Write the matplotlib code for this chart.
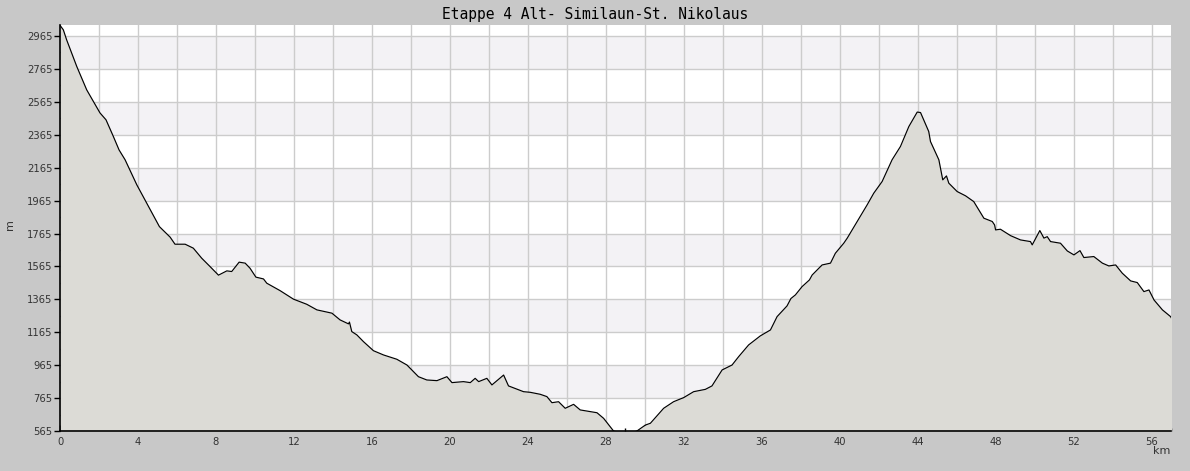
import matplotlib
matplotlib.use("Agg")
import matplotlib.pyplot as plt
from matplotlib.ticker import MultipleLocator, FixedLocator, FuncFormatter

titel = "Etappe 4 Alt- Similaun-St. Nikolaus"

# Distanz (km) und Hoehe (m)
km = [0.0, 0.17, 0.34, 0.86, 1.37, 2.05, 2.36, 2.74, 3.03, 3.34, 3.94, 4.45, 4.96, 5.10,
      5.65, 5.90, 6.42, 6.84, 7.27, 7.70, 8.13, 8.56, 8.81, 9.19, 9.50, 9.75, 10.05,
      10.44, 10.61, 11.29, 11.98, 12.66, 13.18, 13.95, 14.37, 14.80, 14.85, 14.97,
      15.23, 15.57, 16.08, 16.60, 17.28, 17.80, 18.39, 18.82, 19.34, 19.85, 20.11,
      20.70, 21.05, 21.30, 21.48, 21.90, 22.16, 22.76, 23.01, 23.78, 24.13, 24.64,
      24.98, 25.24, 25.58, 25.92, 26.35, 26.69, 27.55, 27.89, 28.40, 28.8, 29.3,
      29.6, 30.03, 30.29, 30.97, 31.48, 32.00, 32.51, 33.11, 33.45, 33.97, 34.48,
      34.82, 35.33, 35.93, 36.45, 36.79, 37.30, 37.50, 37.73, 38.07, 38.45, 38.59,
      39.10, 39.53, 39.78, 40.21, 40.39, 40.90, 41.41, 41.75, 42.18, 42.69, 43.12,
      43.55, 43.98, 44.15, 44.57, 44.66, 45.09, 45.29, 45.48, 45.60, 46.03, 46.46,
      46.88, 47.40, 47.83, 47.95, 48.00, 48.25, 48.77, 49.28, 49.79, 49.88, 50.27,
      50.48, 50.65, 50.82, 51.33, 51.68, 52.02, 52.33, 52.53, 53.04, 53.48, 53.81,
      54.16, 54.50, 54.93, 55.27, 55.61, 55.87, 56.13, 56.56, 56.98, 57.05]
hoehe = [3030, 3003, 2942, 2780, 2638, 2498, 2456, 2354, 2273, 2213, 2061, 1949, 1838, 1807,
         1743, 1700, 1700, 1676, 1615, 1564, 1512, 1538, 1534, 1591, 1585, 1554, 1500,
         1489, 1463, 1418, 1366, 1335, 1301, 1281, 1240, 1216, 1227, 1169,
         1149, 1108, 1053, 1027, 1001, 966, 895, 875, 871, 895, 859,
         865, 859, 885, 865, 885, 845, 905, 839, 804, 800, 788,
         774, 737, 743, 703, 727, 693, 676, 642, 565, 552, 552,
         565, 601, 612, 703, 743, 768, 804, 818, 839, 936, 966,
         1017, 1088, 1143, 1179, 1260, 1325, 1370, 1392, 1442, 1483, 1513,
         1574, 1585, 1645, 1706, 1737, 1838, 1939, 2010, 2081, 2213, 2294,
         2415, 2503, 2500, 2385, 2324, 2213, 2091, 2115, 2071, 2020, 1994,
         1959, 1858, 1838, 1817, 1787, 1791, 1752, 1726, 1716, 1696, 1783,
         1737, 1746, 1716, 1706, 1659, 1635, 1661, 1619, 1625, 1585, 1568,
         1574, 1524, 1477, 1467, 1412, 1422, 1361, 1301, 1260, 1245]

y_ticks = [565, 765, 965, 1165, 1365, 1565, 1765, 1965, 2165, 2365, 2565, 2765, 2965]
y_min, y_max = 565, 3032
x_max = 57.0

fig = plt.figure(figsize=(11.9, 4.71), dpi=100, facecolor="#c8c8c8")
ax = fig.add_axes([60 / 1190, 40 / 471, 1111 / 1190, 406 / 471])
ax.set_facecolor("white")

# abwechselnde Baender
for i in range(len(y_ticks) - 1):
    if i % 2 == 1:
        ax.axhspan(y_ticks[i], y_ticks[i + 1], color="#f3f2f5", zorder=0, lw=0)

ax.fill_between(km, hoehe, y_min - 100, color="#dcdbd6", zorder=2, lw=0)
ax.plot(km, hoehe, color="black", lw=0.85, zorder=3)

ax.set_xlim(0, x_max)
ax.set_ylim(y_min, y_max)

ax.xaxis.set_major_locator(MultipleLocator(2))
ax.xaxis.set_minor_locator(MultipleLocator(1))
ax.xaxis.set_major_formatter(FuncFormatter(lambda v, p: "%d" % v if int(round(v)) % 4 == 0 else ""))
ax.yaxis.set_major_locator(FixedLocator(y_ticks))
ax.yaxis.set_minor_locator(FixedLocator([v + 100 for v in y_ticks[:-1]]))

ax.grid(True, which="major", color="#cccccc", lw=1.0, zorder=1)
ax.set_axisbelow(True)

ax.tick_params(axis="x", which="major", direction="in", length=4, width=1, pad=4,
               labelsize=7.2, labelcolor="#333333")
ax.tick_params(axis="x", which="minor", direction="in", length=2, width=1)
ax.tick_params(axis="y", which="major", direction="out", length=4.5, width=1, pad=1,
               labelsize=7.2, labelcolor="#333333")
ax.tick_params(axis="y", which="minor", direction="in", length=2, width=1)

for s in ["top", "right"]:
    ax.spines[s].set_visible(False)
for s in ["left", "bottom"]:
    ax.spines[s].set_color("black")
    ax.spines[s].set_linewidth(1.2)
    ax.spines[s].set_zorder(4)

fig.text(0.5, 1 - 14 / 471, titel, family="DejaVu Sans Mono", fontsize=10.5,
         ha="center", va="center", color="black")
fig.text(10 / 1190, 1 - 225 / 471, "m", rotation=90, ha="center", va="center",
         fontsize=8, color="#333333")
fig.text(1162 / 1190, 1 - 451 / 471, "km", ha="center", va="center",
         fontsize=8, color="#333333")

fig.savefig("out.png", dpi=100, facecolor=fig.get_facecolor())
